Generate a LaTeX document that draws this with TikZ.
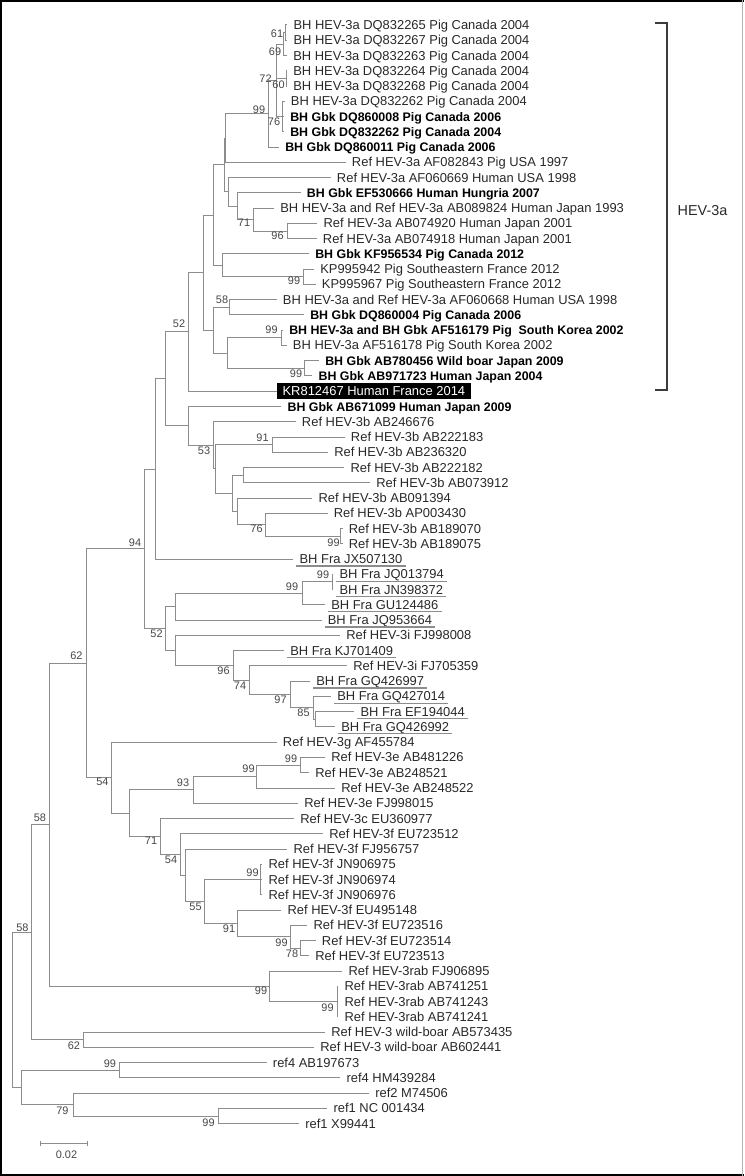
\documentclass[tikz,border=0pt]{standalone}
\usepackage{fontspec}
\setmainfont{Liberation Sans}
\usetikzlibrary{calc}
\definecolor{brc}{RGB}{140,140,140}
\definecolor{txc}{RGB}{40,40,40}
\definecolor{bsc}{RGB}{70,70,70}
\tikzset{
 br/.style={draw=brc, line width=0.75pt},
 lab/.style={anchor=base west, inner sep=0pt, text=txc, font=\fontsize{9.7}{11}\selectfont},
 bl/.style={text=black, font=\fontsize{9.3}{11}\selectfont\bfseries},
 bsl/.style={inner sep=0pt, text=bsc, font=\fontsize{8.2}{10}\selectfont},
 ulin/.style={draw=brc, line width=0.9pt},
}
\newcommand\leafx[4][]{\coordinate (L#2) at (#3,{25+(#2-1)*15.26});\node[lab,#1] (T#2) at ($(L#2)+(6,4.5)$) {#4};}
\newcommand\leafu[3]{\leafx{#1}{#2}{#3}\draw[ulin] ($(T#1.base west)+(-3,2.4)$) -- ($(T#1.base east)+(3,2.4)$);}
\newcommand\inod[4]{\path let \p1=($(#3)!.5!(#4)$), \p2=(#2,0) in coordinate (#1) at (\x2,\y1);\draw[br] (#1) |- (#3) (#1) |- (#4);}
\newcommand\bsv[4]{\node[bsl] (b#1) at (#2,#3) {#4};}
\begin{document}
\begin{tikzpicture}[x=0.75pt,y=-0.75pt]
\useasboundingbox (0,0) rectangle (744,1176);
% frame
\draw[line width=1.6pt] (0.9,1175) -- (0.9,0.9) -- (744,0.9);
\draw[line width=1.6pt] (0,1174.6) -- (744,1174.6);
\draw[gray!60, line width=0.75pt] (742.5,0) -- (742.5,1176);
% leaves
\leafx{1}{287.3}{BH HEV-3a DQ832265 Pig Canada 2004}
\leafx{2}{287.3}{BH HEV-3a DQ832267 Pig Canada 2004}
\leafx{3}{287}{BH HEV-3a DQ832263 Pig Canada 2004}
\leafx{4}{287}{BH HEV-3a DQ832264 Pig Canada 2004}
\leafx{5}{287}{BH HEV-3a DQ832268 Pig Canada 2004}
\leafx{6}{284.7}{BH HEV-3a DQ832262 Pig Canada 2004}
\leafx[bl]{7}{284}{BH Gbk DQ860008 Pig Canada 2006}
\leafx[bl]{8}{284}{BH Gbk DQ832262 Pig Canada 2004}
\leafx[bl]{9}{279}{BH Gbk DQ860011 Pig Canada 2006}
\leafx{10}{345.7}{Ref HEV-3a AF082843 Pig USA 1997}
\leafx{11}{330.7}{Ref HEV-3a AF060669 Human USA 1998}
\leafx[bl]{12}{300.7}{BH Gbk EF530666 Human Hungria 2007}
\leafx{13}{274}{BH HEV-3a and Ref HEV-3a AB089824 Human Japan 1993}
\leafx{14}{317.3}{Ref HEV-3a AB074920 Human Japan 2001}
\leafx{15}{316.7}{Ref HEV-3a AB074918 Human Japan 2001}
\leafx[bl]{16}{309}{BH Gbk KF956534 Pig Canada 2012}
\leafx{17}{314}{KP995942 Pig Southeastern France 2012}
\leafx{18}{315.7}{KP995967 Pig Southeastern France 2012}
\leafx{19}{276.7}{BH HEV-3a and Ref HEV-3a AF060668 Human USA 1998}
\leafx[bl]{20}{304}{BH Gbk DQ860004 Pig Canada 2006}
\leafx[bl]{21}{283}{BH HEV-3a and BH Gbk AF516179 Pig\ \ South Korea 2002}
\leafx{22}{286.7}{BH HEV-3a AF516178 Pig South Korea 2002}
\leafx[bl]{23}{319}{BH Gbk AB780456 Wild boar Japan 2009}
\leafx[bl]{24}{312.3}{BH Gbk AB971723 Human Japan 2004}
\coordinate (L25) at (277,{25+24*15.26});
\node[anchor=west, fill=black, text=white, font=\fontsize{9.7}{11}\selectfont, inner xsep=4pt, inner ysep=2pt, text height=6.9pt, text depth=1.2pt] (T25) at (L25) {KR812467 Human France 2014};
\leafx[bl]{26}{281.3}{BH Gbk AB671099 Human Japan 2009}
\leafx{27}{295.7}{Ref HEV-3b AB246676}
\leafx{28}{344.7}{Ref HEV-3b AB222183}
\leafx{29}{328}{Ref HEV-3b AB236320}
\leafx{30}{344.3}{Ref HEV-3b AB222182}
\leafx{31}{370}{Ref HEV-3b AB073912}
\leafx{32}{312.3}{Ref HEV-3b AB091394}
\leafx{33}{327.5}{Ref HEV-3b AP003430}
\leafx{34}{342.5}{Ref HEV-3b AB189070}
\leafx{35}{342.5}{Ref HEV-3b AB189075}
\leafu{36}{293.3}{BH Fra JX507130}
\leafu{37}{333.3}{BH Fra JQ013794}
\leafu{38}{333.3}{BH Fra JN398372}
\leafu{39}{325}{BH Fra GU124486}
\leafu{40}{321.5}{BH Fra JQ953664}
\leafx{41}{340}{Ref HEV-3i FJ998008}
\leafu{42}{284}{BH Fra KJ701409}
\leafx{43}{347}{Ref HEV-3i FJ705359}
\leafu{44}{310}{BH Fra GQ426997}
\leafu{45}{331}{BH Fra GQ427014}
\leafu{46}{354.3}{BH Fra EF194044}
\leafu{47}{335}{BH Fra GQ426992}
\leafx{48}{276.7}{Ref HEV-3g AF455784}
\leafx{49}{325}{Ref HEV-3e AB481226}
\leafx{50}{309}{Ref HEV-3e AB248521}
\leafx{51}{335}{Ref HEV-3e AB248522}
\leafx{52}{298}{Ref HEV-3e FJ998015}
\leafx{53}{294}{Ref HEV-3c EU360977}
\leafx{54}{323}{Ref HEV-3f EU723512}
\leafx{55}{287.3}{Ref HEV-3f FJ956757}
\leafx{56}{262.3}{Ref HEV-3f JN906975}
\leafx{57}{262.3}{Ref HEV-3f JN906974}
\leafx{58}{262.3}{Ref HEV-3f JN906976}
\leafx{59}{281.3}{Ref HEV-3f EU495148}
\leafx{60}{307.3}{Ref HEV-3f EU723516}
\leafx{61}{315.7}{Ref HEV-3f EU723514}
\leafx{62}{309}{Ref HEV-3f EU723513}
\leafx{63}{342.3}{Ref HEV-3rab FJ906895}
\leafx{64}{338.3}{Ref HEV-3rab AB741251}
\leafx{65}{338.3}{Ref HEV-3rab AB741243}
\leafx{66}{338.3}{Ref HEV-3rab AB741241}
\leafx{67}{325}{Ref HEV-3 wild-boar AB573435}
\leafx{68}{314}{Ref HEV-3 wild-boar AB602441}
\leafx{69}{266.7}{ref4 AB197673}
\leafx{70}{340.3}{ref4 HM439284}
\leafx{71}{369}{ref2 M74506}
\leafx{72}{327.3}{ref1 NC 001434}
\leafx{73}{299}{ref1 X99441}
% internal nodes: HEV-3a
\inod{N61}{285}{L1}{L2}
\inod{N69}{283}{N61}{L3}
\inod{N60}{286}{L4}{L5}
\inod{N76}{282}{L6}{L8} \draw[br] (N76) |- (L7);
\inod{N72}{276}{N69}{N76} \draw[br] (N72) |- (N60);
\inod{N99a}{268}{N72}{L9}
\inod{P}{225}{N99a}{L10}
\inod{N96}{287}{L14}{L15}
\inod{N71}{253}{L13}{N96}
\inod{S}{237}{L12}{N71}
\inod{R}{228}{L11}{S}
\inod{Q}{224}{P}{R}
\inod{N99b}{303}{L17}{L18}
\inod{T}{222}{L16}{N99b}
\inod{Y}{213}{Q}{T}
\inod{N58}{229}{L19}{L20}
\inod{N99c}{281}{L21}{L22}
\inod{N99d}{304}{L23}{L24}
\inod{W}{227}{N99c}{N99d}
\inod{Z}{213}{N58}{W}
\inod{X}{203}{Y}{Z}
\inod{N52}{188}{X}{L25}
% HEV-3b
\inod{N91}{272}{L28}{L29}
\inod{G}{243}{L30}{L31}
\inod{N99e}{340}{L34}{L35}
\inod{N76b}{265}{L33}{N99e}
\inod{H}{237}{L32}{N76b}
\inod{Lc}{232}{G}{H}
\inod{M}{215}{N91}{Lc}
\inod{K}{213}{L27}{M}
\inod{V}{188}{L26}{K}
\inod{U}{165}{N52}{V}
\inod{E}{155}{U}{L36}
% France / 3i
\inod{N99f}{332}{L37}{L38}
\inod{N99g}{302}{N99f}{L39}
\inod{F1}{175}{N99g}{L40}
\inod{Nx}{315}{L46}{L47}
\inod{N85}{313}{L45}{Nx}
\inod{N97}{290}{L44}{N85}
\inod{N74}{249}{L43}{N97}
\inod{N96b}{233}{L42}{N74}
\inod{F2}{175}{L41}{N96b}
\inod{F}{165}{F1}{F2}
\inod{N94}{144}{E}{F}
% 3e 3c 3f
\inod{N99h}{300}{L49}{L50}
\inod{N99i}{256}{N99h}{L51}
\inod{N93}{193}{N99i}{L52}
\inod{N99j}{260}{L56}{L58} \draw[br] (N99j) |- (L57);
\inod{N78}{300}{L61}{L62}
\inod{N99k}{290}{L60}{N78}
\inod{N91b}{237}{L59}{N99k}
\inod{N55}{204}{N99j}{N91b}
\inod{Nf}{185}{L55}{N55}
\inod{N54b}{180}{L54}{Nf}
\inod{N71b}{160}{L53}{N54b}
\inod{Ne}{129}{N93}{N71b}
\inod{N54}{111}{L48}{Ne}
\inod{N62}{86}{N94}{N54}
% rab, wild boar, outgroups
\inod{N99o}{337}{L64}{L66} \draw[br] (N99o) |- (L65);
\inod{N99l}{269}{L63}{N99o}
\inod{N58a}{49}{N62}{N99l}
\inod{N62b}{83}{L67}{L68}
\inod{N58b}{31}{N58a}{N62b}
\inod{N99m}{119}{L69}{L70}
\inod{N99n}{218}{L72}{L73}
\inod{N79}{73}{L71}{N99n}
\inod{Nr2}{21}{N99m}{N79}
\inod{root}{12}{N58b}{Nr2}
% bootstrap values
\bsv{N61}{277}{33.5}{61}
\bsv{N69}{275}{51.5}{69}
\bsv{N72}{265.5}{78.5}{72}
\bsv{N60}{278.5}{85}{60}
\bsv{N99a}{259}{110}{99}
\bsv{N76}{274}{121.5}{76}
\bsv{N71}{244}{222.5}{71}
\bsv{N96}{277.5}{235.5}{96}
\bsv{N99b}{294}{281}{99}
\bsv{N58}{222}{299.5}{58}
\bsv{N99c}{271.5}{330}{99}
\bsv{N99d}{296}{373.5}{99}
\bsv{N52}{179}{324}{52}
\bsv{K}{204}{451}{53}
\bsv{N91}{262.5}{437.5}{91}
\bsv{N76b}{256.5}{529}{76}
\bsv{N99e}{333.5}{542.5}{99}
\bsv{N94}{135}{542.5}{94}
\bsv{N99f}{323}{575}{99}
\bsv{N99g}{292}{586.5}{99}
\bsv{F}{156.5}{634}{52}
\bsv{N62}{76.5}{656}{62}
\bsv{N96b}{223.5}{671}{96}
\bsv{N74}{240}{686}{74}
\bsv{N97}{280.5}{700}{97}
\bsv{N85}{303.5}{713}{85}
\bsv{N99h}{291}{758.5}{99}
\bsv{N99i}{248.5}{769}{99}
\bsv{N54}{102.5}{781.5}{54}
\bsv{N93}{183}{782.5}{93}
\bsv{N71b}{151}{841}{71}
\bsv{N54b}{171}{860}{54}
\bsv{N58a}{40}{817.5}{58}
\bsv{N99j}{252.5}{872.5}{99}
\bsv{N55}{195.5}{907}{55}
\bsv{N91b}{229}{929}{91}
\bsv{N99k}{281.5}{942.5}{99}
\bsv{N78}{292}{954}{78}
\bsv{N58b}{22.5}{927.5}{58}
\bsv{N99l}{261}{991}{99}
\bsv{N99o}{327.5}{1007.5}{99}
\bsv{N62b}{74}{1046}{62}
\bsv{N99m}{110}{1064}{99}
\bsv{N79}{62.5}{1111}{79}
\bsv{N99n}{208.5}{1122.5}{99}
% clade bracket
\coordinate (brA) at (655,23);
\coordinate (brB) at (655,390);
\draw[draw={rgb,255:red,60;green,60;blue,60}, line width=1pt] (brA) -- ++(12,0) |- (brB);
\node[inner sep=0pt, text=txc, font=\fontsize{10.8}{13}\selectfont] (clade) at (702.5,211) {HEV-3a};
% scale bar
\coordinate (sA) at (40,1143);
\coordinate (sB) at (87,1143);
\draw[br] (sA) -- (sB);
\draw[br] ($(sA)+(0,-2.5)$) -- ($(sA)+(0,2.5)$);
\draw[br] ($(sB)+(0,-2.5)$) -- ($(sB)+(0,2.5)$);
\node[bsl] (slab) at (66.5,1155) {0.02};
\end{tikzpicture}
\end{document}
